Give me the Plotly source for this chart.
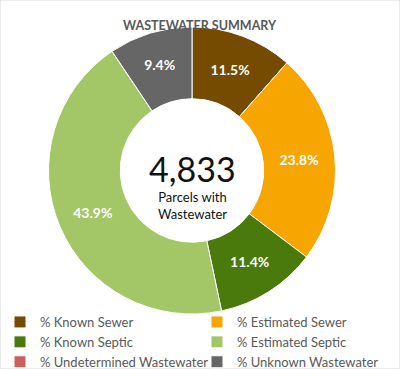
import plotly.graph_objects as go

labels = ["% Known Sewer", "% Estimated Sewer", "% Known Septic", "% Estimated Septic",
          "% Undetermined Wastewater", "% Unknown Wastewater"]
values = [11.5, 23.8, 11.4, 43.9, 0.0, 9.4]
colors = ["#744B00", "#F7A500", "#4B7A0C", "#A3C766", "#C9605E", "#666666"]
total_parcels = "4,833"
center_sub = "Parcels with<br>Wastewater"
title = "WASTEWATER SUMMARY"

templates = ["%{value:.1f}%" if v > 0 else "" for v in values]

W, H = 400, 369
fig = go.Figure(go.Pie(
    labels=labels, values=values, sort=False, direction="clockwise", rotation=0,
    hole=0.5, marker=dict(colors=colors, line=dict(color="#FFFFFF", width=1)),
    texttemplate=templates, textposition="inside", insidetextorientation="horizontal",
    textfont=dict(family="Lato", size=14, color="#FFFFFF", weight="bold"),
    domain=dict(x=[48 / W, 336 / W], y=[1 - 314 / H, 1 - 27 / H]),
    hoverinfo="label+percent",
))

fig.update_layout(
    width=W, height=H, margin=dict(l=0, r=0, t=0, b=0, autoexpand=False),
    paper_bgcolor="#FFFFFF", plot_bgcolor="#FFFFFF",
    font=dict(family="Lato", color="#595959"),
    showlegend=True,
    legend=dict(orientation="h", x=0.0, y=1 - 307 / H, xanchor="left", yanchor="top",
                entrywidth=152, entrywidthmode="pixels", traceorder="normal",
                font=dict(family="Lato", size=13, color="#595959"),
                itemwidth=30, tracegroupgap=0, bgcolor="rgba(0,0,0,0)"),
    annotations=[
        dict(text=f"<b>{title}</b>", x=0.5, y=1 - 16 / H, xref="paper", yref="paper",
             showarrow=False, font=dict(family="Lato", size=12.5, color="#595959")),
        dict(text=total_parcels, x=192 / W, y=1 - 169 / H, xref="paper", yref="paper",
             showarrow=False, font=dict(family="Lato", size=34, color="#111111")),
        dict(text=center_sub, x=192 / W, y=1 - 205 / H, xref="paper", yref="paper",
             showarrow=False, font=dict(family="Lato", size=13, color="#111111")),
    ],
    shapes=[dict(type="rect", xref="paper", yref="paper", x0=0, x1=1, y0=0, y1=1,
                 line=dict(color="#D9D9D9", width=1))],
)

fig.write_html("out.html", config={"displayModeBar": False},
               post_script="document.body.style.margin='0';document.body.style.overflow='hidden';")
